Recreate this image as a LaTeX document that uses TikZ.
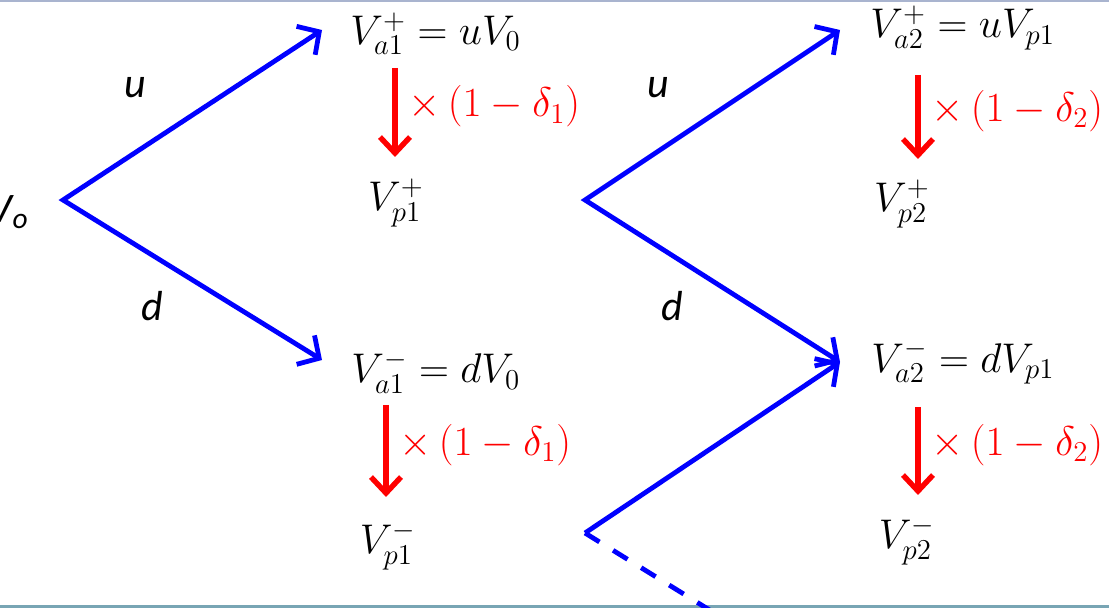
\documentclass[tikz,border=0pt]{standalone}
\usepackage[no-math]{fontspec}
\setmainfont{Carlito}
\usetikzlibrary{arrows.meta}
\usetikzlibrary{calc}

\begin{document}
\begin{tikzpicture}[x=0.5pt, y=-0.5pt,
  every node/.style={font=\fontsize{20}{24}\selectfont, inner sep=2pt},
  fork/.style={blue, line width=2.4pt, line join=miter,
    {Straight Barb[length=8pt,width=17pt]}-{Straight Barb[length=8pt,width=17pt]}},
  branch/.style={blue, line width=2.4pt, -{Straight Barb[length=8pt,width=17pt]}},
  decay/.style={red, line width=2.7pt, -{Straight Barb[length=8pt,width=15pt]}},
  rate/.style={red, midway, right, xshift=3.5pt, yshift=3pt},
  move/.style={font=\fontsize{21}{25}\selectfont\itshape}]
\useasboundingbox (0,0) rectangle (1109,608);
\draw[color={rgb,255:red,169;green,180;blue,207}, line width=1pt] (0,0.8)--(1109,0.8);
\draw[color={rgb,255:red,120;green,165;blue,180}, line width=1.5pt] (0,606.5)--(1109,606.5);

% first step
\node[move, anchor=east] (vo) at (33,212) {V\textsubscript{o}};
\coordinate (f1) at (63,200);
\node[anchor=west] (a1p) at (346,34) {$V_{a1}^{+} = uV_0$};
\node (p1p) at (396,203) {$V_{p1}^{+}$};
\node[anchor=west] (a1m) at (347,372) {$V_{a1}^{-} = dV_0$};
\node (p1m) at (388,546) {$V_{p1}^{-}$};
\node[move] (u1) at (135,88) {u};
\node[move] (d1) at (152,306) {d};

% second step
\coordinate (f2) at (585,200);
\coordinate (f3) at (585,533);
\coordinate (e3) at (716,614);
\node[anchor=west] (a2p) at (866,28) {$V_{a2}^{+} = uV_{p1}$};
\node (p2p) at (902,204) {$V_{p2}^{+}$};
\node[anchor=west] (a2m) at (867,362) {$V_{a2}^{-} = dV_{p1}$};
\node (p2m) at (907,541) {$V_{p2}^{-}$};
\node[move] (u2) at (658,88) {u};
\node[move] (d2) at (672,306) {d};

\draw[fork] ([xshift=-12pt,yshift=2pt]a1p.west) -- (f1) -- ([xshift=-12.5pt,yshift=6pt]a1m.west);
\draw[fork] ([xshift=-13pt,yshift=-1pt]a2p.west) -- (f2) -- ([xshift=-13.5pt]a2m.west);
\draw[branch] (f3) -- ([xshift=-13.5pt]a2m.west);
\draw[blue, line width=2.4pt, dash pattern=on 8.5pt off 8pt] (f3) -- (e3);

\draw[decay] ([xshift=-0.5pt,yshift=-17pt]p1p.center |- a1p.center) -- node[rate] {$\times\,(1-\delta_1)$} ([xshift=-0.5pt,yshift=23pt]p1p.center);
\draw[decay] ([xshift=-1pt,yshift=-16.5pt]p1m.center |- a1m.center) -- node[rate] {$\times\,(1-\delta_1)$} ([xshift=-1pt,yshift=24.5pt]p1m.center);
\draw[decay] ([xshift=8pt,yshift=-23.5pt]p2p.center |- a2p.center) -- node[rate] {$\times\,(1-\delta_2)$} ([xshift=8pt,yshift=22.5pt]p2p.center);
\draw[decay] ([xshift=5.5pt,yshift=-22.5pt]p2m.center |- a2m.center) -- node[rate] {$\times\,(1-\delta_2)$} ([xshift=5.5pt,yshift=23pt]p2m.center);
\end{tikzpicture}
\end{document}
